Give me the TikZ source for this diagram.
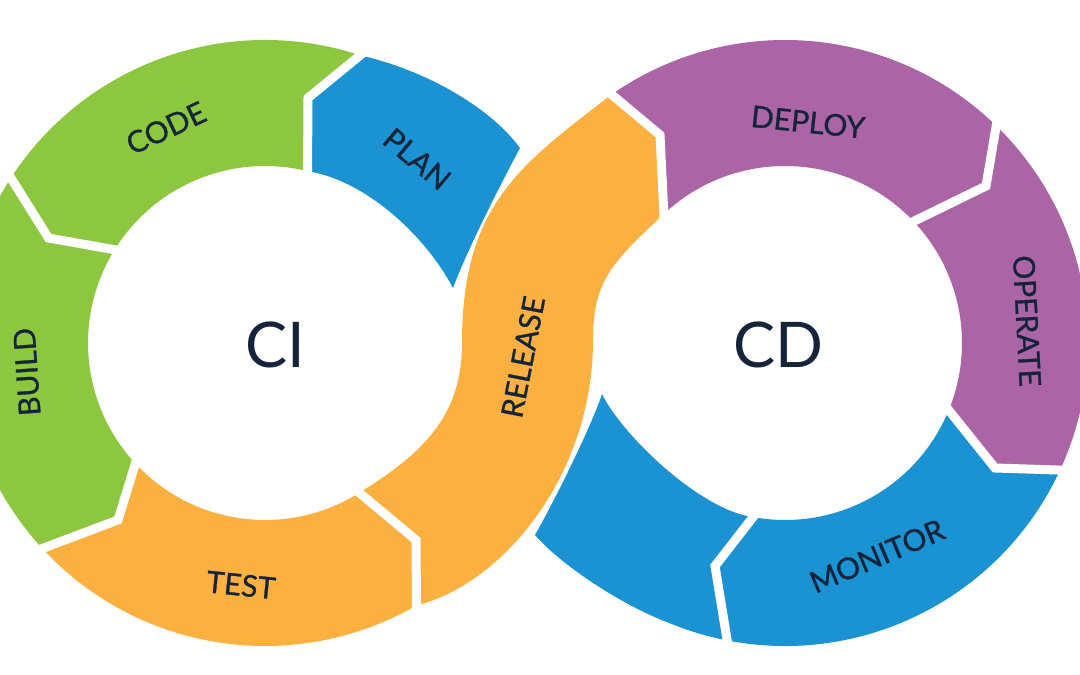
\documentclass[tikz,border=0pt]{standalone}
\usepackage{fontspec}
\setmainfont{Lato}
\newfontfamily\lblfont{Lato}[FakeBold=0.9]
\usetikzlibrary{calc}
\definecolor{cgreen}{HTML}{8DC63F}
\definecolor{cblue}{HTML}{1B93D2}
\definecolor{corange}{HTML}{FBB040}
\definecolor{cpurple}{HTML}{AB65A6}
\definecolor{ctext}{HTML}{15243A}
\begin{document}
\begin{tikzpicture}[x=1pt,y=1pt,
  lbl/.style={text=ctext, font=\lblfont\fontsize{30}{32}\selectfont, inner sep=0pt},
  big/.style={text=ctext, font=\fontsize{63}{66}\selectfont, inner sep=0pt},
  gapline/.style={draw=white, line width=9pt, line join=miter, line cap=butt}]
\useasboundingbox (0,0) rectangle (1080,675);
\clip (0,0) rectangle (1080,675);
% centres
\coordinate (C1) at (265,332);
\coordinate (C2) at (785,332);
% left ring dividers
\coordinate (pcO) at ($(C1)+(71.7:303)$);
\coordinate (pcT) at (308,577);
\coordinate (pcI) at ($(C1)+(76.1:177)$);
\coordinate (cbO) at ($(C1)+(147:303)$);
\coordinate (cbT) at (48.5,437);
\coordinate (cbI) at ($(C1)+(148.2:177)$);
\coordinate (btO) at ($(C1)+(222.7:303)$);
\coordinate (btT) at (118,155);
\coordinate (btI) at ($(C1)+(222.9:177)$);
\coordinate (trO) at ($(C1)+(300:303)$);
\coordinate (trT) at (416,135);
\coordinate (trI) at ($(C1)+(302.2:177)$);
% right ring dividers
\coordinate (rdO) at ($(C2)+(124.9:303)$);
\coordinate (rdT) at (660,540);
\coordinate (rdI) at ($(C2)+(133.2:177)$);
\coordinate (doO) at ($(C2)+(45.8:303)$);
\coordinate (doT) at (986,489);
\coordinate (doI) at ($(C2)+(43.4:177)$);
\coordinate (omO) at ($(C2)+(-24.8:303)$);
\coordinate (omT) at (995,207);
\coordinate (omI) at ($(C2)+(-22.3:177)$);
\coordinate (mbO) at ($(C2)+(-101:303)$);
\coordinate (mbT) at (715,109);
\coordinate (mbI) at ($(C2)+(-100.4:177)$);
% corners of the tapered pieces
\coordinate (planC) at (520,527);
\coordinate (planP) at (453,387);
\coordinate (blueC) at (535,140);
\coordinate (blueP) at (602,281);
\coordinate (relL) at (462,332);
\coordinate (relR) at (593,335);

% CODE
\fill[cgreen] (pcO) arc[start angle=71.7, end angle=147, radius=303pt] -- (cbT) -- (cbI)
  arc[start angle=148.2, end angle=76.1, radius=177pt] -- (pcT) -- cycle;
% BUILD
\fill[cgreen] (cbO) arc[start angle=147, end angle=222.7, radius=303pt] -- (btT) -- (btI)
  arc[start angle=222.9, end angle=148.2, radius=177pt] -- (cbT) -- cycle;
% TEST
\fill[corange] (btO) arc[start angle=222.7, end angle=300, radius=303pt] -- (trT) -- (trI)
  arc[start angle=302.2, end angle=222.9, radius=177pt] -- (btT) -- cycle;
% PLAN
\fill[cblue] (pcO) .. controls (425,605) and (490,568) .. (planC)
  .. controls (500,490) and (465,420) .. (planP)
  .. controls (425,440) and (365,495) .. (pcI)
  -- (pcT) -- cycle;
% DEPLOY
\fill[cpurple] (rdO) arc[start angle=124.9, end angle=45.8, radius=303pt] -- (doT) -- (doI)
  arc[start angle=43.4, end angle=133.2, radius=177pt] -- (rdT) -- cycle;
% OPERATE
\fill[cpurple] (doO) arc[start angle=45.8, end angle=-24.8, radius=303pt] -- (omT) -- (omI)
  arc[start angle=-22.3, end angle=43.4, radius=177pt] -- (doT) -- cycle;
% MONITOR
\fill[cblue] (omO) arc[start angle=-24.8, end angle=-101, radius=303pt] -- (mbT) -- (mbI)
  arc[start angle=-100.4, end angle=-22.3, radius=177pt] -- (omT) -- cycle;
% unlabeled blue
\fill[cblue] (mbO) arc[start angle=-101, end angle=-112.3, radius=303pt]
  .. controls (621,70) and (561,110) .. (blueC)
  .. controls (555,175) and (592,250) .. (blueP)
  .. controls (622,240) and (700,165) .. (mbI)
  -- (mbT) -- cycle;
% RELEASE band
\fill[corange] (trI) .. controls (427,224) and (462,262) .. (relL)
  .. controls (462,470) and (520,510) .. (rdO)
  -- (rdT) -- (rdI)
  .. controls (612.8,413) and (593,395) .. (relR)
  .. controls (593,200) and (503,91) .. (trO)
  -- (trT) -- cycle;

% white gaps between segments
\foreach \o/\t/\i in {pcO/pcT/pcI, cbO/cbT/cbI, btO/btT/btI, trO/trT/trI,
                      rdO/rdT/rdI, doO/doT/doI, omO/omT/omI, mbO/mbT/mbI}{
  \draw[gapline] ($(\t)!1.25!(\o)$) -- (\t) -- ($(\t)!1.2!(\i)$);
}

% labels
\node[lbl, rotate=25] (code) at (166,547) {CODE};
\node[lbl, rotate=-40] (plan) at (417,516) {PLAN};
\node[lbl, rotate=94] (build) at (27,303) {BUILD};
\node[lbl, rotate=-6] (test) at (241,90) {TEST};
\node[lbl, rotate=79] (release) at (523,318) {RELEASE};
\node[lbl, rotate=-6] (deploy) at (808,553) {DEPLOY};
\node[lbl, rotate=-87] (operate) at (1027,354) {OPERATE};
\node[lbl, rotate=23] (monitor) at (877,119) {MONITOR};
\node[big] (ci) at (275.5,330.5) {CI};
\node[big] (cd) at (778.5,330.5) {CD};
\end{tikzpicture}
\end{document}
